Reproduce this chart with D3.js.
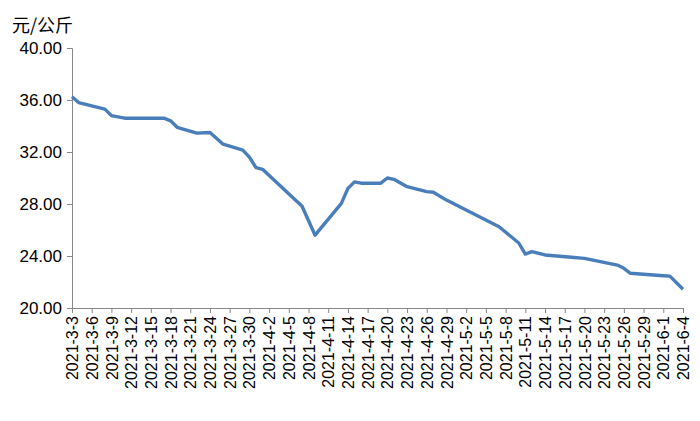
<!DOCTYPE html>
<html><head><meta charset="utf-8">
<script src="https://cdn.jsdelivr.net/npm/d3@7"></script>
<style>body{margin:0;background:#fff}svg{font-family:"Liberation Sans",Arial,sans-serif}</style>
</head><body>
<svg id="c" width="700" height="421"></svg>
<script>
// 日期与价格（元/公斤）
const dates = ["2021-3-3","2021-3-4","2021-3-8","2021-3-9","2021-3-11","2021-3-17","2021-3-18","2021-3-19","2021-3-22","2021-3-24","2021-3-26","2021-3-29","2021-3-30","2021-3-31","2021-4-1","2021-4-6","2021-4-7","2021-4-9","2021-4-13","2021-4-14","2021-4-15","2021-4-16","2021-4-19","2021-4-20","2021-4-21","2021-4-23","2021-4-26","2021-4-27","2021-4-29","2021-5-7","2021-5-10","2021-5-11","2021-5-12","2021-5-14","2021-5-18","2021-5-20","2021-5-25","2021-5-26","2021-5-27","2021-6-1","2021-6-2","2021-6-4"];
const prices = [36.25,35.8,35.3,34.8,34.6,34.6,34.4,33.9,33.45,33.5,32.6,32.15,31.6,30.8,30.67,28.3,27.85,25.6,28.05,29.2,29.7,29.6,29.6,30.0,29.9,29.33,28.95,28.9,28.3,26.25,25.0,24.15,24.33,24.08,23.9,23.82,23.3,23.05,22.67,22.48,22.45,21.44];
const yTicks = [20,24,28,32,36,40];

const parse = d3.timeParse("%Y-%m-%d");
const fmt = d => `${d.getFullYear()}-${d.getMonth()+1}-${d.getDate()}`;
const data = dates.map((d,i) => ({date: parse(d), v: prices[i]}));

const svg = d3.select("#c");
const x = d3.scaleTime().domain([parse("2021-3-3"), parse("2021-6-4")]).range([72, 683]);
const y = d3.scaleLinear().domain([20, 40]).range([308, 48]);

const xTicks = d3.timeDay.range(parse("2021-3-3"), d3.timeDay.offset(parse("2021-6-4"), 1), 3);

const gy = svg.append("g").attr("transform", "translate(72,0)")
    .call(d3.axisLeft(y).tickValues(yTicks).tickFormat(d3.format(".2f")).tickSize(5));
gy.select(".domain").attr("stroke", "#888");
gy.selectAll(".tick line").attr("stroke", "#888");
gy.selectAll("text").attr("font-size", 17).attr("fill", "#000").attr("dx", -2);

const gx = svg.append("g").attr("transform", "translate(0,308)")
    .call(d3.axisBottom(x).tickValues(xTicks).tickFormat(fmt).tickSize(5));
gx.select(".domain").attr("stroke", "#888");
gx.selectAll(".tick line").attr("stroke", "#888");
gx.selectAll("text").attr("font-size", 16).attr("fill", "#000")
    .attr("transform", "rotate(-90)").attr("text-anchor", "end")
    .attr("x", -8).attr("y", 0).attr("dy", "0.35em");

svg.append("path").datum(data)
    .attr("fill", "none").attr("stroke", "#4a7ebb").attr("stroke-width", 3.4)
    .attr("stroke-linejoin", "round")
    .attr("d", d3.line().x(d => x(d.date)).y(d => y(d.v)));

svg.append("text").attr("x", 12).attr("y", 32).attr("font-size", 18)
    .attr("font-family", "Noto Sans CJK SC").text("元/公斤");
</script>
</body></html>
